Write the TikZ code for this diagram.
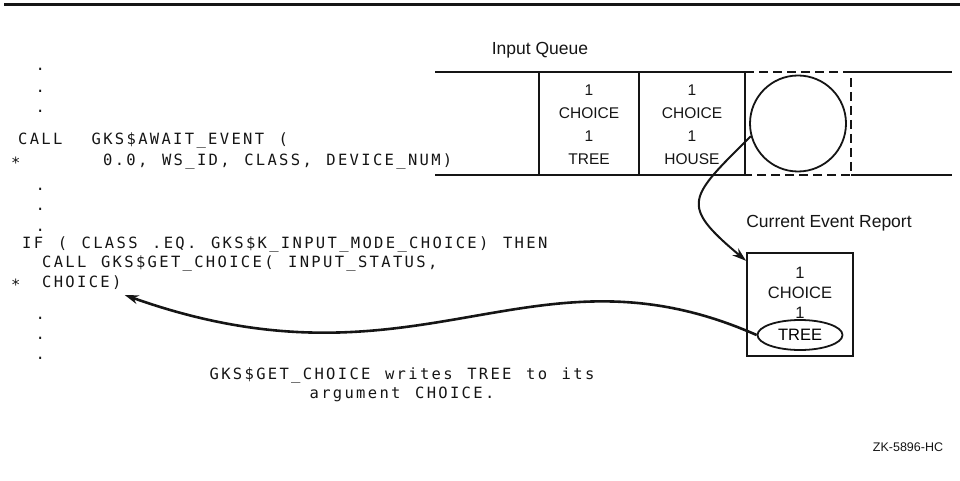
\documentclass[tikz,border=0pt]{standalone}
\usepackage{fontspec}
\setmainfont{Liberation Sans}
\newfontfamily\codefont[LetterSpace=15,WordSpace=1.25]{DejaVu Sans Mono}
\usetikzlibrary{arrows.meta,positioning,calc,shapes.geometric}
\definecolor{Ink}{HTML}{151515}
\tikzset{
  code/.style={anchor=base west,inner sep=0pt,text=Ink,
    font=\codefont\fontsize{15.5}{19.5}\selectfont},
  cell/.style={align=center,inner sep=0pt,text=Ink,
    font=\fontsize{15.5}{23}\selectfont},
  caption/.style={inner sep=0pt,text=Ink,font=\fontsize{17.5}{21}\selectfont},
  rule/.style={Ink,line width=1.8pt},
  flow/.style={Ink,line width=2pt,-{Stealth[length=14pt,width=9pt]}},
}
\newcommand{\CodeLine}[4]{%
  \node[code] (#1) at (#2,#3) {#4};%
}

\begin{document}
\begin{tikzpicture}[x=1pt,y=1pt]
\useasboundingbox (0,0) rectangle (960,480);
\draw[Ink,line width=3pt] (4,475) -- (960,475);
% program text
\foreach \n/\y in {a/409,b/387,c/367,d/290,e/270,f/249,g/161,h/141,i/121}
  \node[code] (dot\n) at (35.3,\y) {.};
\CodeLine{awaitcall}{18}{335}{CALL\ \ GKS\$AWAIT\_EVENT (}
\CodeLine{awaitstar}{11}{312}{*}
\CodeLine{awaitargs}{103}{315}{0.0, WS\_ID, CLASS, DEVICE\_NUM)}
\CodeLine{ifclass}{22}{232}{IF ( CLASS .EQ. GKS\$K\_INPUT\_MODE\_CHOICE) THEN}
\CodeLine{getcall}{42}{213}{CALL GKS\$GET\_CHOICE( INPUT\_STATUS,}
\CodeLine{getstar}{11}{190}{*}
\CodeLine{choicearg}{42}{193}{CHOICE)}
\node[code,anchor=center,align=center] (note) at (402,95)
  {GKS\$GET\_CHOICE writes TREE to its\\argument CHOICE.};
% input queue
\node[caption] (queuelbl) at (540,430) {Input Queue};
\draw[rule] (435,408) -- (745,408) (851,408) -- (952,408);
\draw[rule] (435,305) -- (745,305) (851,305) -- (952,305);
\foreach \x in {539,639,745}
  \draw[rule] (\x,305) -- (\x,408);
\draw[rule,dash pattern=on 9pt off 5pt] (745,408) -- (851,408) -- (851,305) -- (745,305);
\node[cell] (evtree) at (589,355) {1\\CHOICE\\1\\TREE};
\node[cell] (evhouse) at (692,355) {1\\CHOICE\\1\\HOUSE};
\node[circle,draw=Ink,line width=1.8pt,minimum size=96pt,inner sep=0pt] (mark) at (798,356.5) {};
% current event report
\node[caption] (reportlbl) at (829,257) {Current Event Report};
\node[draw=Ink,line width=1.8pt,minimum width=106pt,minimum height=103pt,inner sep=0pt] (report) at (800,175.5) {};
\node[cell,font=\fontsize{16.5}{20}\selectfont] (reportval) at (800,187) {1\\CHOICE\\1};
\node[ellipse,draw=Ink,line width=1.8pt,minimum width=85pt,minimum height=30pt,inner sep=0pt,
  font=\fontsize{16.5}{20}\selectfont] (treeval) at (800,145) {TREE};
\coordinate (argtip) at ($(choicearg.base east)+(3,-8)$);
\draw[flow] (mark.195) to[out=225,in=140,looseness=1.8] (report.141);
\draw[flow,line width=2.6pt] (treeval.west) .. controls (530,245) and (420,80) .. (argtip);
\node[caption,font=\fontsize{12.5}{15}\selectfont] (figid) at (908,33) {ZK-5896-HC};
\end{tikzpicture}
\end{document}
